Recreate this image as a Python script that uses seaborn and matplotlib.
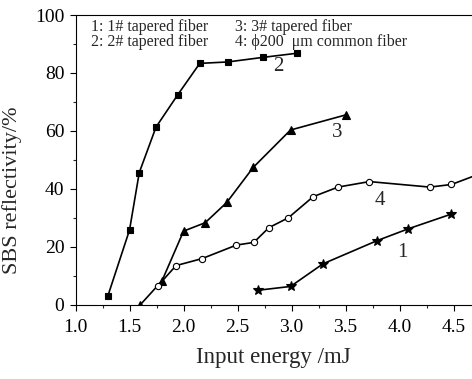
import numpy as np
import pandas as pd
import seaborn as sns
import matplotlib
matplotlib.use("Agg")
import matplotlib.pyplot as plt
from matplotlib.ticker import MultipleLocator

sns.set_style("ticks")
plt.rcParams['font.family'] = ['Liberation Serif', 'DejaVu Serif']

# Data
e1 = [2.69, 2.99, 3.29, 3.79, 4.08, 4.48]
r1 = [5.0, 6.3, 14.1, 22.1, 26.2, 31.3]

e2 = [1.30, 1.50, 1.59, 1.745, 1.945, 2.15, 2.41, 2.74, 3.05]
r2 = [3.1, 25.8, 45.6, 61.3, 72.4, 83.3, 83.8, 85.4, 86.8]

e3 = [1.60, 1.80, 2.00, 2.20, 2.40, 2.645, 2.99, 3.50]
r3 = [0.0, 8.2, 25.4, 28.3, 35.3, 47.4, 60.3, 65.5]

e4 = [1.76, 1.93, 2.17, 2.49, 2.65, 2.79, 2.97, 3.20, 3.43, 3.72, 4.28, 4.48, 4.80]
r4 = [6.4, 13.5, 15.9, 20.6, 21.5, 26.6, 30.0, 37.3, 40.6, 42.5, 40.6, 41.5, 46.0]

series_names = ["1", "2", "3", "4"]
legend_lines = ["1: 1# tapered fiber", "2: 2# tapered fiber",
                "3: 3# tapered fiber", "4: \u03d5200  \u03bcm common fiber"]
label_pos_e = [4.03, 2.88, 3.42, 3.82]
label_pos_r = [17.9, 82.2, 59.3, 36.1]

xticks = [1.0, 1.5, 2.0, 2.5, 3.0, 3.5, 4.0, 4.5]
yticks = [0, 20, 40, 60, 80, 100]

fig = plt.figure(figsize=(4.72, 3.79), dpi=100)
ax = fig.add_axes([0.160, 0.196, 0.840, 0.7644])

styles = [
    dict(marker="*", ms=7, mfc="black", mec="black"),
    dict(marker="s", ms=4.5, mfc="black", mec="black"),
    dict(marker="^", ms=5.5, mfc="black", mec="black"),
    dict(marker="o", ms=4.5, mfc="white", mec="black", mew=0.8),
]
data = [(e1, r1), (e2, r2), (e3, r3), (e4, r4)]
for (e, r), st in zip(data, styles):
    df = pd.DataFrame({"E": e, "R": r})
    sns.lineplot(data=df, x="E", y="R", ax=ax, color="black", lw=1.2,
                 marker=st["marker"], markersize=st["ms"],
                 markerfacecolor=st["mfc"], markeredgecolor=st["mec"],
                 markeredgewidth=st.get("mew", 0.8), sort=False)

for name, xe, yr in zip(series_names, label_pos_e, label_pos_r):
    ax.text(xe, yr, name, fontsize=15, ha="center", va="center")

ax.set_xlim(1.0, 4.67)
ax.set_ylim(0, 100)
ax.set_xticks(xticks)
ax.set_xticklabels([f"{t:.1f}" for t in xticks])
ax.set_yticks(yticks)
ax.xaxis.set_minor_locator(MultipleLocator(0.25))
ax.yaxis.set_minor_locator(MultipleLocator(10))
ax.tick_params(axis="both", which="major", direction="out", length=4, width=0.8,
               labelsize=14, colors="black", pad=4)
ax.tick_params(axis="x", which="major", pad=6)
ax.tick_params(axis="both", which="minor", direction="out", length=2.5, width=0.8)
ax.spines["right"].set_visible(False)
for s in ["top", "left", "bottom"]:
    ax.spines[s].set_linewidth(0.8)
    ax.spines[s].set_color("black")

ax.set_xlabel("Input energy /mJ", fontsize=16.5, labelpad=8)
ax.set_ylabel("SBS reflectivity/%", fontsize=16, labelpad=5)
ax.yaxis.set_label_coords(-0.135, 0.395)

# legend-like text block
fs = 11.5
ax.text(0.040, 0.985, legend_lines[0], transform=ax.transAxes, fontsize=fs, va="top")
ax.text(0.040, 0.933, legend_lines[1], transform=ax.transAxes, fontsize=fs, va="top")
ax.text(0.402, 0.985, legend_lines[2], transform=ax.transAxes, fontsize=fs, va="top")
ax.text(0.402, 0.933, legend_lines[3], transform=ax.transAxes, fontsize=fs, va="top")

fig.savefig("out.png", dpi=100)
